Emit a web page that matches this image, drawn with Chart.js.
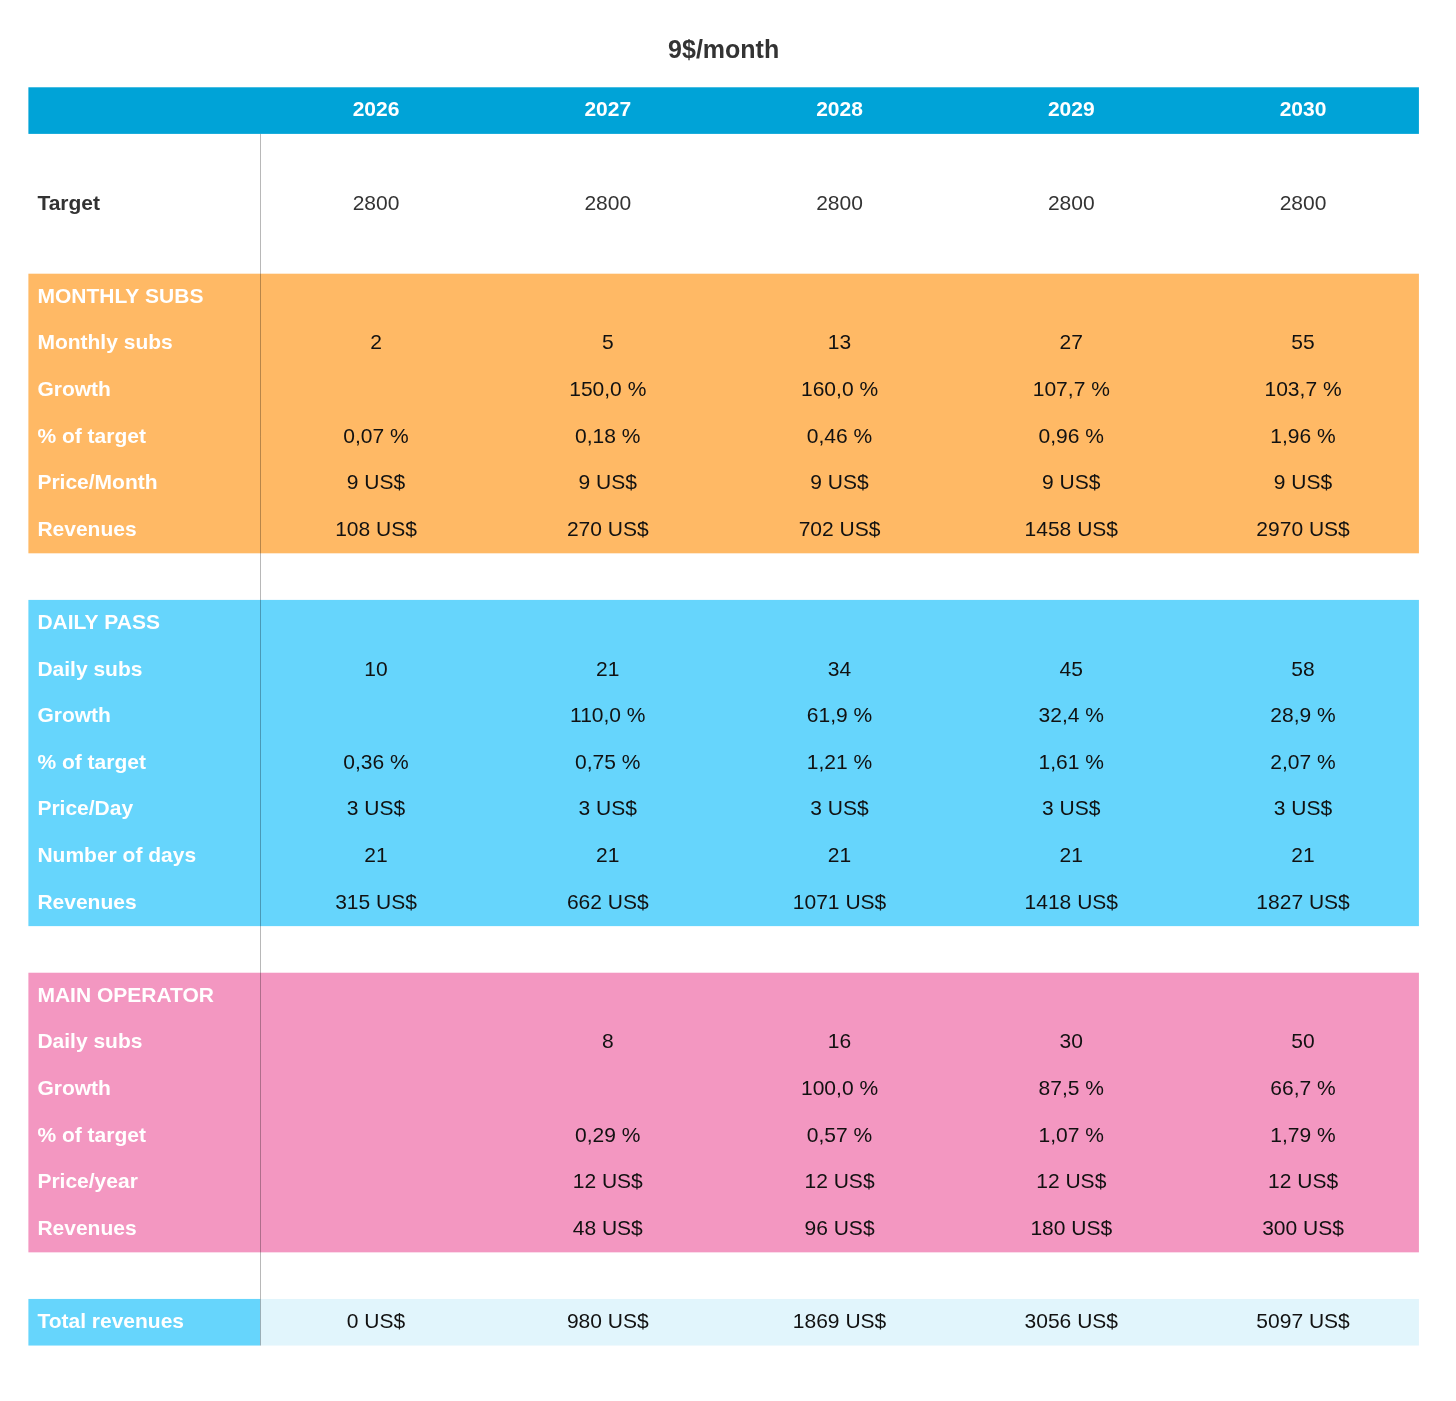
<!DOCTYPE html>
<html>
<head>
<meta charset="utf-8">
<script src="https://cdn.jsdelivr.net/npm/chart.js@4"></script>
<style>
  html, body { margin: 0; padding: 0; background: #fff; }
  canvas { display: block; }
</style>
</head>
<body>
<canvas id="table" width="1456" height="1401"></canvas>
<script>
// Table data
const title = "9$/month";
const years = ["2026", "2027", "2028", "2029", "2030"];
const target = [2800, 2800, 2800, 2800, 2800];

const monthlySubs = [2, 5, 13, 27, 55];
const monthlyGrowth = [null, 150.0, 160.0, 107.7, 103.7];
const monthlyPctTarget = [0.07, 0.18, 0.46, 0.96, 1.96];
const monthlyPrice = [9, 9, 9, 9, 9];
const monthlyRevenues = [108, 270, 702, 1458, 2970];

const dailySubs = [10, 21, 34, 45, 58];
const dailyGrowth = [null, 110.0, 61.9, 32.4, 28.9];
const dailyPctTarget = [0.36, 0.75, 1.21, 1.61, 2.07];
const dailyPrice = [3, 3, 3, 3, 3];
const dailyDays = [21, 21, 21, 21, 21];
const dailyRevenues = [315, 662, 1071, 1418, 1827];

const operatorSubs = [null, 8, 16, 30, 50];
const operatorGrowth = [null, null, 100.0, 87.5, 66.7];
const operatorPctTarget = [null, 0.29, 0.57, 1.07, 1.79];
const operatorPrice = [null, 12, 12, 12, 12];
const operatorRevenues = [null, 48, 96, 180, 300];

const totalRevenues = [0, 980, 1869, 3056, 5097];

// formatters
const num = v => v == null ? "" : String(v);
const pct = d => v => v == null ? "" : v.toFixed(d).replace(".", ",") + " %";
const usd = v => v == null ? "" : v + " US$";

// sections: row index r (grid unit), label, values, formatter
const sections = [
  { color: "#ffb965", from: 0, rows: [
    ["MONTHLY SUBS", null, num],
    ["Monthly subs", monthlySubs, num],
    ["Growth", monthlyGrowth, pct(1)],
    ["% of target", monthlyPctTarget, pct(2)],
    ["Price/Month", monthlyPrice, usd],
    ["Revenues", monthlyRevenues, usd]
  ]},
  { color: "#66d5fc", from: 7, rows: [
    ["DAILY PASS", null, num],
    ["Daily subs", dailySubs, num],
    ["Growth", dailyGrowth, pct(1)],
    ["% of target", dailyPctTarget, pct(2)],
    ["Price/Day", dailyPrice, usd],
    ["Number of days", dailyDays, num],
    ["Revenues", dailyRevenues, usd]
  ]},
  { color: "#f397c1", from: 15, rows: [
    ["MAIN OPERATOR", null, num],
    ["Daily subs", operatorSubs, num],
    ["Growth", operatorGrowth, pct(1)],
    ["% of target", operatorPctTarget, pct(2)],
    ["Price/year", operatorPrice, usd],
    ["Revenues", operatorRevenues, usd]
  ]}
];

const FONT = "'Liberation Sans', Arial, sans-serif";

const tablePlugin = {
  id: "tablePlugin",
  afterDraw(chart) {
    const ctx = chart.ctx;
    const x = chart.scales.x, y = chart.scales.y;
    const X = v => x.getPixelForValue(v);
    const Y = v => y.getPixelForValue(v);
    const left = X(-1.5), labelRight = X(-0.5), right = X(4.5);
    const labelX = X(-1.5) + 9;

    ctx.save();
    ctx.textBaseline = "middle";

    // title
    ctx.fillStyle = "#333";
    ctx.font = "bold 25px " + FONT;
    ctx.textAlign = "center";
    ctx.fillText(title, X(1.5), Y(-5.28));

    // header
    ctx.fillStyle = "#00a3d7";
    ctx.fillRect(left, Y(-4.5), right - left, Y(-3.5) - Y(-4.5));
    ctx.fillStyle = "#fff";
    ctx.font = "bold 21px " + FONT;
    years.forEach((yr, i) => ctx.fillText(yr, X(i), Y(-4)));

    // target row
    ctx.textAlign = "left";
    ctx.fillStyle = "#333";
    ctx.font = "bold 21px " + FONT;
    ctx.fillText("Target", labelX, Y(-2));
    ctx.textAlign = "center";
    ctx.font = "21px " + FONT;
    target.forEach((v, i) => ctx.fillText(num(v), X(i), Y(-2)));

    // sections
    sections.forEach(s => {
      const top = Y(s.from - 0.5), bot = Y(s.from + s.rows.length - 0.5);
      ctx.fillStyle = s.color;
      ctx.fillRect(left, top, right - left, bot - top);
      s.rows.forEach((row, k) => {
        const ry = Y(s.from + k);
        ctx.textAlign = "left";
        ctx.fillStyle = "#fff";
        ctx.font = "bold 21px " + FONT;
        ctx.fillText(row[0], labelX, ry);
        if (row[1]) {
          ctx.textAlign = "center";
          ctx.fillStyle = "#111";
          ctx.font = "21px " + FONT;
          row[1].forEach((v, i) => ctx.fillText(row[2](v), X(i), ry));
        }
      });
    });

    // total row
    const tt = Y(21.5), tb = Y(22.5);
    ctx.fillStyle = "#e1f5fc";
    ctx.fillRect(labelRight, tt, right - labelRight, tb - tt);
    ctx.fillStyle = "#66d5fc";
    ctx.fillRect(left, tt, labelRight - left, tb - tt);
    ctx.textAlign = "left";
    ctx.fillStyle = "#fff";
    ctx.font = "bold 21px " + FONT;
    ctx.fillText("Total revenues", labelX, Y(22));
    ctx.textAlign = "center";
    ctx.fillStyle = "#111";
    ctx.font = "21px " + FONT;
    totalRevenues.forEach((v, i) => ctx.fillText(usd(v), X(i), Y(22)));

    // vertical divider
    ctx.strokeStyle = "rgba(0,0,0,0.28)";
    ctx.lineWidth = 1;
    ctx.beginPath();
    ctx.moveTo(Math.round(labelRight) + 0.5, Y(-3.5));
    ctx.lineTo(Math.round(labelRight) + 0.5, tb);
    ctx.stroke();
    ctx.restore();
  }
};

new Chart(document.getElementById("table"), {
  type: "scatter",
  data: { datasets: [{ data: [] }] },
  options: {
    responsive: false,
    animation: false,
    layout: { padding: 0 },
    plugins: { legend: { display: false }, tooltip: { enabled: false } },
    scales: {
      x: { type: "linear", display: false, min: -1.6225, max: 4.66 },
      y: { type: "linear", display: false, reverse: true, min: -6.373, max: 23.69 }
    }
  },
  plugins: [tablePlugin]
});
</script>
</body>
</html>
